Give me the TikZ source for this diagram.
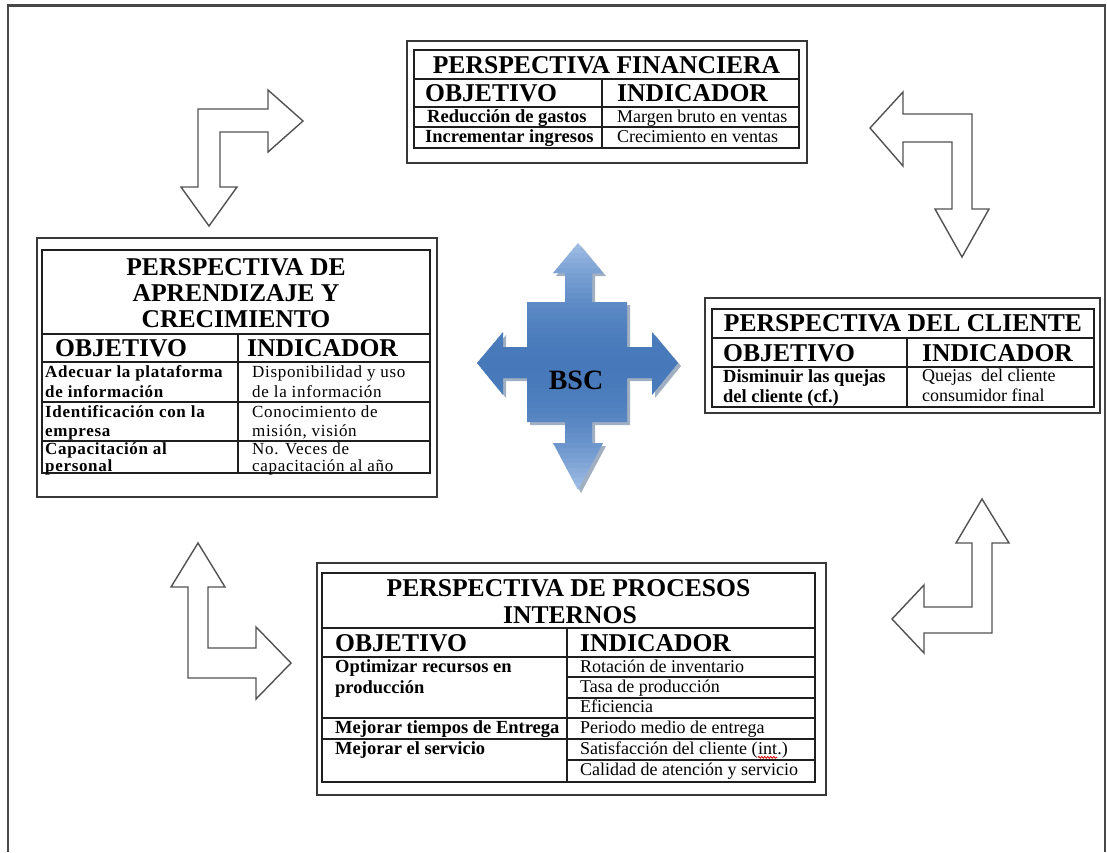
\documentclass[tikz,border=0pt]{standalone}
\usepackage{fontspec}
\setmainfont{Liberation Serif}
\usetikzlibrary{decorations.pathmorphing}

% outline of the central BSC cross
\newcommand\bscoutline{(578,243) -- (603,273) -- (592,273) -- (592,302) -- (627,302) -- (627,347)
  -- (652,347) -- (652,332) -- (678,363) -- (652,395) -- (652,378) -- (627,378) -- (627,422)
  -- (592,422) -- (592,443) -- (603,443) -- (578,490) -- (553,443) -- (565,443) -- (565,422)
  -- (527,422) -- (527,378) -- (503,378) -- (503,395) -- (477,363) -- (503,332) -- (503,347)
  -- (527,347) -- (527,302) -- (565,302) -- (565,273) -- (553,273) -- cycle}

\definecolor{bsclight}{HTML}{A3C0E6}
\definecolor{bscmid}{HTML}{4779BA}
\definecolor{bscshadow}{HTML}{2E4E78}

\begin{document}
\begin{tikzpicture}[x=1pt,y=-1pt,
  frame/.style={line width=2.2pt, draw=black!72},
  outerbox/.style={line width=1.3pt, draw=black!78},
  grid/.style={line width=1.3pt, draw=black!88},
  hollow/.style={line width=1.4pt, draw=black!68, fill=white, line join=miter},
  ttl/.style={anchor=base, inner sep=0pt, font=\bfseries\fontsize{25.6}{26}\selectfont},
  hdr/.style={anchor=base west, inner sep=0pt, font=\bfseries\fontsize{25.6}{26}\selectfont},
  obj/.style={anchor=base west, inner sep=0pt, font=\bfseries\fontsize{18.5}{20}\selectfont},
  ind/.style={anchor=base west, inner sep=0pt, font=\fontsize{18}{20}\selectfont},
  objs/.style={anchor=base west, inner sep=0pt,
    font=\bfseries\fontsize{17}{19}\selectfont\addfontfeature{LetterSpace=4}},
  inds/.style={anchor=base west, inner sep=0pt,
    font=\fontsize{17}{19}\selectfont\addfontfeature{LetterSpace=4}},
]
\useasboundingbox (0,0) rectangle (1107,852);
\fill[white] (0,0) rectangle (1107,852);

% page frame (open at the bottom)
\draw[frame] (8,852) -- (8,5.5) -- (1105,5.5) -- (1105,852);

% ---------- Perspectiva financiera ----------
\draw[outerbox] (407,41) rectangle (807,163);
\draw[grid] (414,50) rectangle (799,148);
\draw[grid] (414,79) -- (799,79) (414,107) -- (799,107) (414,127) -- (799,127)
            (602,79) -- (602,148);
\node[ttl] (finT) at (606.5,73) {PERSPECTIVA FINANCIERA};
\node[hdr] (finO) at (425,101) {OBJETIVO};
\node[hdr] (finI) at (617,101) {INDICADOR};
\node[obj] (finO1) at (427,122) {Reducción de gastos};
\node[obj] (finO2) at (425,142) {Incrementar ingresos};
\node[ind] (finI1) at (617,122) {Margen bruto en ventas};
\node[ind] (finI2) at (617,142) {Crecimiento en ventas};

% ---------- Perspectiva de aprendizaje y crecimiento ----------
\draw[outerbox] (37,238) rectangle (437,497);
\draw[grid] (42,250) rectangle (430,473);
\draw[grid] (42,334) -- (430,334) (42,362) -- (430,362) (42,402) -- (430,402)
            (42,441) -- (430,441) (238,334) -- (238,473);
\node[ttl] (apT1) at (236,275) {PERSPECTIVA DE};
\node[ttl] (apT2) at (236,301) {APRENDIZAJE Y};
\node[ttl] (apT3) at (236,327) {CRECIMIENTO};
\node[hdr] (apO) at (55,356) {OBJETIVO};
\node[hdr] (apI) at (247,356) {INDICADOR};
\node[objs] (apO1a) at (45,377) {Adecuar la plataforma};
\node[objs] (apO1b) at (45,397) {de información};
\node[objs] (apO2a) at (45,417) {Identificación con la};
\node[objs] (apO2b) at (45,436) {empresa};
\node[objs] (apO3a) at (45,454) {Capacitación al};
\node[objs] (apO3b) at (45,471) {personal};
\node[inds] (apI1a) at (252,377) {Disponibilidad y uso};
\node[inds] (apI1b) at (252,397) {de la información};
\node[inds] (apI2a) at (252,417) {Conocimiento de};
\node[inds] (apI2b) at (252,436) {misión, visión};
\node[inds] (apI3a) at (252,454) {No. Veces de};
\node[inds] (apI3b) at (252,471) {capacitación al año};

% ---------- Perspectiva del cliente ----------
\draw[outerbox] (705,298) rectangle (1100,413);
\draw[grid] (712,309) rectangle (1094,407);
\draw[grid] (712,338) -- (1094,338) (712,367) -- (1094,367) (907,338) -- (907,407);
\node[ttl] (clT) at (903,331) {PERSPECTIVA DEL CLIENTE};
\node[hdr] (clO) at (723,361) {OBJETIVO};
\node[hdr] (clI) at (922,361) {INDICADOR};
\node[obj] (clO1a) at (723,382) {Disminuir las quejas};
\node[obj] (clO1b) at (723,402) {del cliente (cf.)};
\node[ind] (clI1a) at (922,381) {Quejas~ del cliente};
\node[ind] (clI1b) at (922,401) {consumidor final};

% ---------- Perspectiva de procesos internos ----------
\draw[outerbox] (317,563) rectangle (826,795);
\draw[grid] (322,573) rectangle (815,782);
\draw[grid] (322,628) -- (815,628) (322,657) -- (815,657) (322,718) -- (815,718)
            (322,739) -- (815,739) (567,677) -- (815,677) (567,698) -- (815,698)
            (567,760) -- (815,760) (567,628) -- (567,782);
\node[ttl] (prT1) at (568.5,596) {PERSPECTIVA DE PROCESOS};
\node[ttl] (prT2) at (570,623) {INTERNOS};
\node[hdr] (prO) at (335,651) {OBJETIVO};
\node[hdr] (prI) at (580,651) {INDICADOR};
\node[obj] (prO1a) at (335,672) {Optimizar recursos en};
\node[obj] (prO1b) at (335,693) {producción};
\node[obj] (prO2) at (335,733) {Mejorar tiempos de Entrega};
\node[obj] (prO3) at (335,754) {Mejorar el servicio};
\node[ind] (prI1) at (580,672) {Rotación de inventario};
\node[ind] (prI2) at (580,692) {Tasa de producción};
\node[ind] (prI3) at (580,712) {Eficiencia};
\node[ind] (prI4) at (580,733) {Periodo medio de entrega};
\node[ind] (prI5a) at (580,754) {Satisfacción del cliente (};
\node[ind] (prI5b) at (prI5a.base east) {int};
\node[ind] (prI5c) at (prI5b.base east) {.)};
\node[ind] (prI6) at (580,775) {Calidad de atención y servicio};
% spell-check squiggle under "int"
\draw[red!85!black, line width=0.8pt, decorate,
      decoration={snake, segment length=3pt, amplitude=0.9pt}]
  ([yshift=-3pt]prI5b.south west) -- ([yshift=-3pt]prI5b.south east);

% ---------- hollow elbow arrows ----------
% top left: right and down
\draw[hollow] (198,109) -- (268,109) -- (268,90) -- (303,121) -- (268,152) -- (268,132)
  -- (220,132) -- (220,187) -- (237,187) -- (209,226) -- (181,187) -- (198,187) -- cycle;
% top right: left and down
\draw[hollow] (870,128) -- (903,92) -- (903,114) -- (972,114) -- (972,209) -- (989,209)
  -- (962,257) -- (935,209) -- (952,209) -- (952,142) -- (903,142) -- (903,166) -- cycle;
% bottom left: up and right
\draw[hollow] (198,543) -- (225,587) -- (208,587) -- (208,648) -- (256,648) -- (256,627)
  -- (291,663) -- (256,699) -- (256,678) -- (188,678) -- (188,587) -- (171,587) -- cycle;
% bottom right: up and left
\draw[hollow] (982,499) -- (1009,543) -- (992,543) -- (992,633) -- (924,633) -- (924,653)
  -- (892,619) -- (924,585) -- (924,607) -- (972,607) -- (972,543) -- (956,543) -- cycle;

% ---------- central BSC cross ----------
\fill[bscshadow, opacity=0.45, shift={(3,3)}] \bscoutline;
\begin{scope}
  \clip \bscoutline;
  % vertical gradient: light at the tips, deep blue across the middle
  \foreach \i in {0,...,49}{
    \pgfmathsetmacro\yc{243+5*\i+2.5}
    \pgfmathsetmacro\p{min(100,100*(abs(\yc-366)/124)^2)}
    \fill[bsclight!\p!bscmid] (470,243+5*\i) rectangle (690,249+5*\i);
  }
\end{scope}
\node[anchor=base, inner sep=0pt, font=\bfseries\fontsize{28}{30}\selectfont] (bsc) at (576,389) {BSC};
\end{tikzpicture}
\end{document}
